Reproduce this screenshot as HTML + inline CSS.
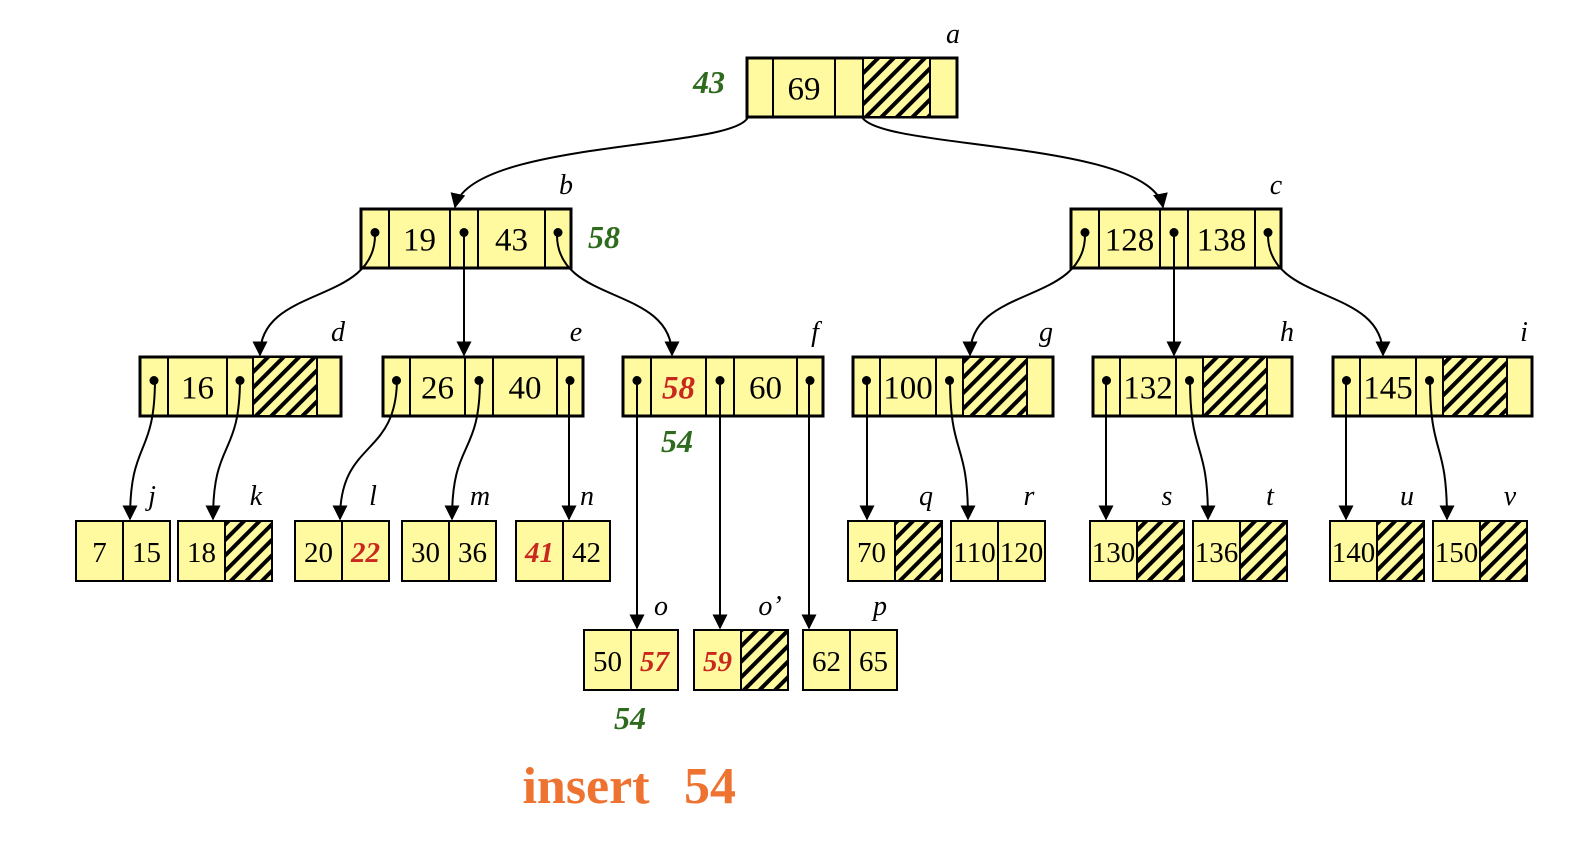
<!DOCTYPE html>
<html><head><meta charset="utf-8"><style>
html,body{margin:0;padding:0;background:#fff;width:1575px;height:842px;overflow:hidden}
svg text{font-family:"Liberation Serif",serif}
</style></head><body>
<svg width="1575" height="842" viewBox="0 0 1575 842" xmlns="http://www.w3.org/2000/svg">
<defs>
<pattern id="h" patternUnits="userSpaceOnUse" width="11" height="11" patternTransform="rotate(45)">
<rect width="11" height="11" fill="#fffaa0"/><rect x="0" y="0" width="4" height="11" fill="#000"/>
</pattern>
<marker id="ar" viewBox="0 0 10 10" refX="9" refY="5" markerWidth="7.5" markerHeight="7.5" orient="auto" markerUnits="strokeWidth">
<path d="M0,0 L10,5 L0,10 z" fill="#000"/></marker>
</defs>
<g id="nodes" stroke="#000" fill="#fffaa0"></g>
<g id="arrows" fill="none" stroke="#000" stroke-width="2"></g>
<g id="txt"></g>
</svg>
<script>
const NS="http://www.w3.org/2000/svg";
const N=document.getElementById('nodes'),A=document.getElementById('arrows'),T=document.getElementById('txt');
function el(p,t,a,txt){const e=document.createElementNS(NS,t);for(const k in a)e.setAttribute(k,a[k]);if(txt!=null)e.textContent=txt;p.appendChild(e);return e;}
function text(x,y,s,o={}){el(T,'text',Object.assign({x:x,y:y,'text-anchor':'middle','font-size':33,fill:'#000'},o),s);}
function inode(y,xs,k1,k2,red,dots){
 const h=59;
 el(N,'rect',{x:xs[0],y:y,width:xs[5]-xs[0],height:h,'stroke-width':3});
 if(k2===null) el(N,'rect',{x:xs[3],y:y,width:xs[4]-xs[3],height:h,fill:'url(#h)','stroke-width':2});
 for(let i=1;i<5;i++) el(N,'line',{x1:xs[i],y1:y,x2:xs[i],y2:y+h,'stroke-width':2});
 const ky=y+h/2+12;
 text((xs[1]+xs[2])/2,ky,k1,red?{fill:'#c8281e','font-style':'italic','font-weight':'bold'}:{});
 if(k2!==null) text((xs[3]+xs[4])/2,ky,k2);
 if(dots){const dc=[0,2,4].filter(i=>!(k2===null&&i===4));for(const i of dc){const cx=(xs[i]+xs[i+1])/2;el(N,'circle',{cx:cx,cy:y+h/2-6,r:4.5,fill:'#000',stroke:'none'});}}
}
function leaf(x,y,k1,k2,r1,r2){
 const w=94,h=60;
 el(N,'rect',{x:x,y:y,width:w,height:h,'stroke-width':2});
 if(k2===null) el(N,'rect',{x:x+w/2,y:y,width:w/2,height:h,fill:'url(#h)','stroke-width':2});
 el(N,'line',{x1:x+w/2,y1:y,x2:x+w/2,y2:y+h,'stroke-width':2});
 const R={fill:'#c8281e','font-style':'italic','font-weight':'bold'};
 text(x+w/4,y+41,k1,Object.assign({'font-size':29},r1?R:{}));
 if(k2!==null) text(x+3*w/4,y+41,k2,Object.assign({'font-size':29},r2?R:{}));
}
inode(58,[747,773,835,863,930,957],'69',null,false,false);
inode(209,[361,389,450,478,545,571],'19','43',false,true);
inode(209,[1071,1099,1160,1188,1255,1281],'128','138',false,true);
inode(357,[140,168,227,253,317,341],'16',null,false,true);
inode(357,[383,410,465,493,557,583],'26','40',false,true);
inode(357,[623,651,706,734,797,823],'58','60',true,true);
inode(357,[853,880,936,963,1027,1053],'100',null,false,true);
inode(357,[1093,1120,1176,1203,1267,1292],'132',null,false,true);
inode(357,[1333,1360,1416,1443,1507,1532],'145',null,false,true);
leaf(76,521,'7','15');leaf(178,521,'18',null);leaf(295,521,'20','22',false,true);
leaf(402,521,'30','36');leaf(516,521,'41','42',true);leaf(848,521,'70',null);
leaf(951,521,'110','120');leaf(1090,521,'130',null);leaf(1193,521,'136',null);
leaf(1330,521,'140',null);leaf(1433,521,'150',null);
leaf(584,630,'50','57',false,true);leaf(694,630,'59',null,true);leaf(803,630,'62','65');
function arr(d){el(A,'path',{d:d,'marker-end':'url(#ar)'});}
function cv(x1,y1,x2,y2){const my=(y1+y2)/2;arr(`M${x1},${y1} C${x1},${my+10} ${x2},${my-10} ${x2},${y2}`);}
arr('M748,117 C735,150 470,140 455,207');
arr('M862,117 C880,150 1150,140 1163,207');
cv(375,235,260,355);arr('M464,235 L464,355');cv(557,235,672,355);
cv(1085,235,970,355);arr('M1174,235 L1174,355');cv(1268,235,1383,355);
cv(155,378,130,519);cv(240,378,213,519);
cv(397,378,340,519);cv(480,378,452,519);arr('M569,378 L569,519');
arr('M637,378 L637,628');arr('M720,378 L720,628');arr('M809,378 L809,628');
arr('M867,378 L867,519');cv(950,378,968,519);
arr('M1106,378 L1106,519');cv(1190,378,1208,519);
arr('M1346,378 L1346,519');cv(1430,378,1447,519);
const L=[['a',953,43],['b',566,194],['c',1276,194],['d',338,341],['e',576,341],['f',815,341],['g',1046,341],['h',1287,341],['i',1524,341],
['j',152,505],['k',256,505],['l',373,505],['m',480,505],['n',587,505],['q',926,505],['r',1029,505],['s',1167,505],['t',1270,505],['u',1407,505],['v',1510,505],
['o',661,615],['o’',770,615],['p',880,615]];
for(const [s,x,y] of L) text(x,y,s,{'font-style':'italic','font-size':28});
const G={fill:'#2e6b1e','font-style':'italic','font-weight':'bold','font-size':32};
text(709,93,'43',G);text(604,248,'58',G);text(677,452,'54',G);text(630,729,'54',G);
text(586,803,'insert',{fill:'#ee7230','font-weight':'bold','font-size':52});
text(710,803,'54',{fill:'#ee7230','font-weight':'bold','font-size':52});
</script>
</body></html>
